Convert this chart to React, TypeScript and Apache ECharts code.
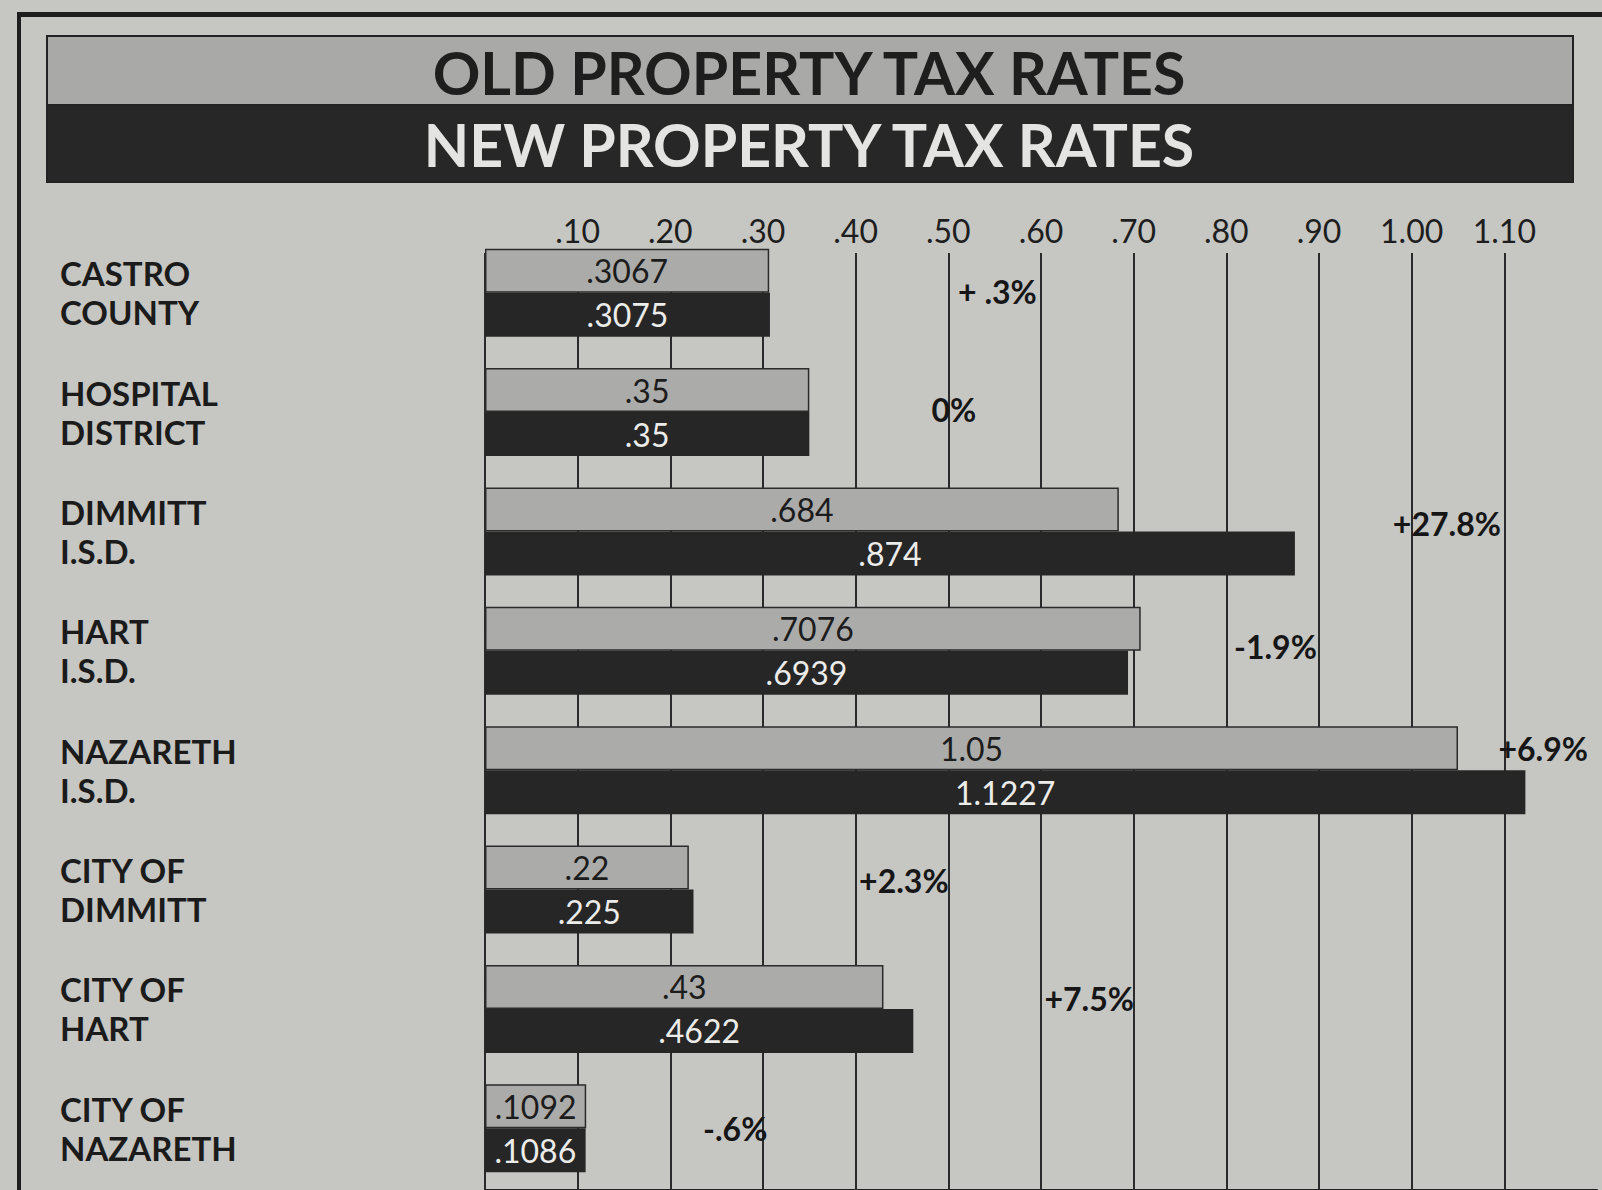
import React, { useEffect, useRef } from "react";
import * as echarts from "echarts";

const categories = [
  "CASTRO\nCOUNTY",
  "HOSPITAL\nDISTRICT",
  "DIMMITT\nI.S.D.",
  "HART\nI.S.D.",
  "NAZARETH\nI.S.D.",
  "CITY OF\nDIMMITT",
  "CITY OF\nHART",
  "CITY OF\nNAZARETH",
];
const oldRates = [0.3067, 0.35, 0.684, 0.7076, 1.05, 0.22, 0.43, 0.1092];
const newRates = [0.3075, 0.35, 0.874, 0.6939, 1.1227, 0.225, 0.4622, 0.1086];
const pctLabels = ["+ .3%", "0%", "+27.8%", "-1.9%", "+6.9%", "+2.3%", "+7.5%", "-.6%"];
// where each change note sits (value position along the axis, vertical nudge in px)
const pctPlace = [
  [0.553, -1], [0.506, -3], [1.038, -8], [0.853, -4],
  [1.142, -22], [0.452, -9], [0.652, -10], [0.27, 0],
];

const FONT = "Lato, 'DejaVu Sans', sans-serif";
const fmtRate = (v: number) => String(v).replace(/^0\./, ".");

export default function App() {
  const ref = useRef<HTMLDivElement>(null);
  useEffect(() => {
    document.body.style.margin = "0";
    const chart = echarts.init(ref.current!, null, { renderer: "svg" });
    const gridLeft = 485;
    const gridW = 1112;
    chart.setOption({
      animation: false,
      backgroundColor: "#c6c7c3",
      grid: [
        { left: gridLeft, top: 233, width: gridW, height: 955 },
        { left: gridLeft, top: 253, width: gridW, height: 937 },
      ],
      xAxis: [
        { gridIndex: 0, type: "value", min: 0, max: 1.2, show: false },
        {
          gridIndex: 1,
          type: "value",
          position: "top",
          min: 0,
          max: 1.2,
          interval: 0.1,
          axisLine: { show: true, lineStyle: { color: "#222", width: 2 } },
          axisTick: { show: false },
          axisLabel: {
            margin: 7,
            fontFamily: FONT,
            fontSize: 32,
            color: "#1e1e1e",
            formatter: (v: number) => {
              if (v < 0.05 || v > 1.15) return "";
              return v < 1 ? v.toFixed(2).replace(/^0/, "") : v.toFixed(2);
            },
          },
          splitLine: {
            show: true,
            showMaxLine: false,
            lineStyle: { color: "#2a2a2a", width: 2 },
          },
        },
      ],
      yAxis: [
        {
          gridIndex: 0,
          type: "category",
          data: categories,
          inverse: true,
          axisLine: { show: false },
          axisTick: { show: false },
          splitLine: { show: false },
          axisLabel: {
            align: "left",
            margin: gridLeft - 60,
            fontFamily: FONT,
            fontWeight: "bold",
            fontSize: 33,
            lineHeight: 39,
            color: "#1b1b1b",
          },
        },
        { gridIndex: 1, type: "value", show: false, min: 0, max: 1 },
      ],
      graphic: [
        { type: "rect", shape: { x: 17, y: 12, width: 1602, height: 5 }, style: { fill: "#1e1e1e" } },
        { type: "rect", shape: { x: 17, y: 12, width: 4, height: 1200 }, style: { fill: "#1e1e1e" } },
        {
          type: "rect",
          shape: { x: 47, y: 36, width: 1526, height: 69 },
          style: { fill: "#a9a9a7", stroke: "#222", lineWidth: 2 },
        },
        {
          type: "rect",
          shape: { x: 47, y: 105, width: 1526, height: 77 },
          style: { fill: "#272727", stroke: "#222", lineWidth: 2 },
        },
        {
          type: "text",
          x: 809,
          y: 72,
          style: {
            text: "OLD PROPERTY TAX RATES",
            fontFamily: FONT,
            fontWeight: "bold",
            fontSize: 59,
            fill: "#1e1e1e",
            align: "center",
            verticalAlign: "middle",
          },
        },
        {
          type: "text",
          x: 809,
          y: 144,
          style: {
            text: "NEW PROPERTY TAX RATES",
            fontFamily: FONT,
            fontWeight: "bold",
            fontSize: 59,
            fill: "#e4e4e2",
            align: "center",
            verticalAlign: "middle",
          },
        },
      ],
      series: [
        {
          name: "Old",
          type: "bar",
          xAxisIndex: 0,
          yAxisIndex: 0,
          data: oldRates,
          barWidth: 44,
          barGap: "0%",
          itemStyle: { color: "#ababa9", borderColor: "#2b2b2b", borderWidth: 1.5 },
          label: {
            show: true,
            position: "inside",
            fontFamily: FONT,
            fontSize: 32,
            color: "#1c1c1c",
            formatter: (p: any) => fmtRate(p.value),
          },
        },
        {
          name: "New",
          type: "bar",
          xAxisIndex: 0,
          yAxisIndex: 0,
          data: newRates,
          barWidth: 44,
          barGap: "0%",
          itemStyle: { color: "#262626" },
          label: {
            show: true,
            position: "inside",
            fontFamily: FONT,
            fontSize: 32,
            color: "#ececea",
            formatter: (p: any) => fmtRate(p.value),
          },
        },
        {
          name: "Change",
          type: "scatter",
          xAxisIndex: 0,
          yAxisIndex: 0,
          symbol: "circle",
          symbolSize: 2,
          itemStyle: { color: "rgba(0,0,0,0)" },
          z: 5,
          data: pctLabels.map((t, i) => ({
            value: [pctPlace[i][0], i],
            label: { offset: [0, pctPlace[i][1]] },
          })),
          label: {
            show: true,
            position: "inside",
            fontFamily: FONT,
            fontWeight: "bold",
            fontSize: 32,
            color: "#161616",
            opacity: 1,
            formatter: (p: any) => pctLabels[p.dataIndex],
          },
        },
      ],
    });
    return () => chart.dispose();
  }, []);
  return <div ref={ref} style={{ width: 1602, height: 1190 }} />;
}
